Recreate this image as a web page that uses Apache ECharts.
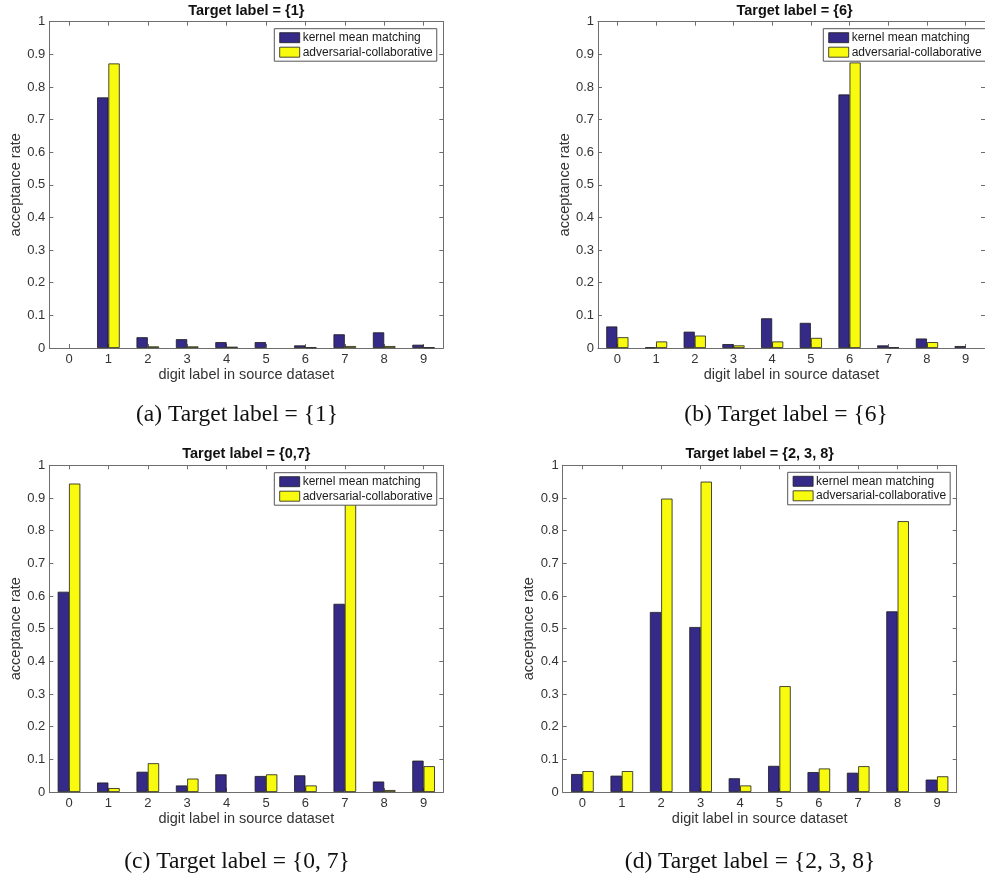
<!DOCTYPE html>
<html>
<head>
<meta charset="utf-8">
<script src="https://cdn.jsdelivr.net/npm/echarts@6/dist/echarts.min.js"></script>
<style>
  html, body { margin: 0; padding: 0; background: #fff; }
  #chart { width: 985px; height: 878px; }
</style>
</head>
<body>
<div id="chart"></div>
<script>
const categories = ['0', '1', '2', '3', '4', '5', '6', '7', '8', '9'];
const yTicks = [0, 0.1, 0.2, 0.3, 0.4, 0.5, 0.6, 0.7, 0.8, 0.9, 1];
const seriesNames = ['kernel mean matching', 'adversarial-collaborative'];

const titles = ['Target label = {1}', 'Target label = {6}', 'Target label = {0,7}', 'Target label = {2, 3, 8}'];
const captions = ['(a) Target label = {1}', '(b) Target label = {6}', '(c) Target label = {0, 7}', '(d) Target label = {2, 3, 8}'];

const kmm_a = [0, 0.768, 0.033, 0.027, 0.018, 0.018, 0.008, 0.042, 0.048, 0.010];
const adv_a = [0, 0.872, 0.005, 0.005, 0.004, 0.000, 0.002, 0.006, 0.006, 0.002];

const kmm_b = [0.066, 0.002, 0.050, 0.012, 0.091, 0.077, 0.777, 0.008, 0.029, 0.006];
const adv_b = [0.033, 0.020, 0.038, 0.008, 0.020, 0.031, 0.875, 0.002, 0.018, 0.000];

const kmm_c = [0.613, 0.029, 0.062, 0.020, 0.054, 0.049, 0.051, 0.576, 0.032, 0.096];
const adv_c = [0.944, 0.012, 0.088, 0.041, 0.000, 0.054, 0.020, 0.930, 0.006, 0.079];

const kmm_d = [0.055, 0.050, 0.551, 0.505, 0.042, 0.080, 0.061, 0.059, 0.553, 0.038];
const adv_d = [0.064, 0.064, 0.898, 0.950, 0.020, 0.324, 0.072, 0.079, 0.829, 0.048];

const panelData = [[kmm_a, adv_a], [kmm_b, adv_b], [kmm_c, adv_c], [kmm_d, adv_d]];

// layout (pixels)
const grids = [
  { left: 49.3, top: 21.7, width: 394, height: 326.3 },
  { left: 598.0, top: 21.7, width: 393, height: 326.3 },
  { left: 49.3, top: 465.3, width: 394, height: 326.7 },
  { left: 562.7, top: 465.3, width: 394, height: 326.7 }
];
const legendPos = [
  { left: 274.3, top: 28.7 },
  { left: 823.3, top: 28.7 },
  { left: 274.3, top: 472.7 },
  { left: 787.7, top: 472.3 }
];
const captionPos = [
  { x: 237, y: 414.5 },
  { x: 786, y: 414.5 },
  { x: 237, y: 862 },
  { x: 750, y: 862 }
];

const BLUE = '#352a87';
const YELLOW = '#f9fb0e';
const FRAME = '#6e6e6e';
const TXT = '#333333';
const FONT = '"Liberation Sans", Arial, Helvetica, sans-serif';

const option = {
  backgroundColor: '#ffffff',
  animation: false,
  title: [],
  legend: [],
  grid: [],
  xAxis: [],
  yAxis: [],
  series: [],
  graphic: []
};

function barItems(values) {
  // zero values are drawn without an outline, like the reference
  return values.map(v => (v === 0 ? { value: v, itemStyle: { borderWidth: 0 } } : v));
}

grids.forEach((g, i) => {
  option.grid.push({ left: g.left, top: g.top, width: g.width, height: g.height, show: false, containLabel: false });
  option.title.push({
    text: titles[i],
    left: g.left + g.width / 2,
    top: g.top - 18.5,
    textAlign: 'center',
    padding: 0,
    textStyle: { fontFamily: FONT, fontSize: 14.5, fontWeight: 'bold', color: '#111' }
  });
  option.xAxis.push({
    type: 'category', gridIndex: i, data: categories, position: 'bottom',
    boundaryGap: true,
    name: 'digit label in source dataset', nameLocation: 'middle', nameGap: 19,
    nameTextStyle: { fontFamily: FONT, fontSize: 14.5, color: TXT },
    axisLine: { show: true, onZero: false, lineStyle: { color: FRAME, width: 1 } },
    axisTick: { show: true, inside: true, alignWithLabel: true, length: 4, lineStyle: { color: FRAME } },
    axisLabel: { fontFamily: FONT, fontSize: 13, color: TXT, margin: 4.5 },
    splitLine: { show: false }
  });
  option.xAxis.push({
    type: 'category', gridIndex: i, data: categories, position: 'top',
    boundaryGap: true,
    axisLine: { show: true, onZero: false, lineStyle: { color: FRAME, width: 1 } },
    axisTick: { show: true, inside: true, alignWithLabel: true, length: 4, lineStyle: { color: FRAME } },
    axisLabel: { show: false },
    splitLine: { show: false }
  });
  option.yAxis.push({
    type: 'value', gridIndex: i, min: yTicks[0], max: yTicks[yTicks.length - 1], interval: yTicks[1] - yTicks[0],
    position: 'left',
    name: 'acceptance rate', nameLocation: 'middle', nameGap: 25,
    nameTextStyle: { fontFamily: FONT, fontSize: 14.5, color: TXT },
    axisLine: { show: true, onZero: false, lineStyle: { color: FRAME, width: 1 } },
    axisTick: { show: true, inside: true, length: 4, lineStyle: { color: FRAME } },
    axisLabel: { fontFamily: FONT, fontSize: 13, color: TXT, margin: 4,
      formatter: v => String(Math.round(v * 10) / 10) },
    splitLine: { show: false }
  });
  option.yAxis.push({
    type: 'value', gridIndex: i, min: yTicks[0], max: yTicks[yTicks.length - 1], interval: yTicks[1] - yTicks[0],
    position: 'right',
    axisLine: { show: true, onZero: false, lineStyle: { color: FRAME, width: 1 } },
    axisTick: { show: true, inside: true, length: 4, lineStyle: { color: FRAME } },
    axisLabel: { show: false },
    splitLine: { show: false }
  });
  const [kmm, adv] = panelData[i];
  option.series.push({
    name: seriesNames[0], type: 'bar', xAxisIndex: 2 * i, yAxisIndex: 2 * i,
    data: barItems(kmm), barWidth: '28.7%', barGap: '0%',
    itemStyle: { color: BLUE, borderColor: '#1a1a1a', borderWidth: 0.8 }
  });
  option.series.push({
    name: seriesNames[1], type: 'bar', xAxisIndex: 2 * i, yAxisIndex: 2 * i,
    data: barItems(adv), barWidth: '28.7%', barGap: '0%',
    itemStyle: { color: YELLOW, borderColor: '#1a1a1a', borderWidth: 0.8 }
  });
  option.legend.push({
    data: seriesNames,
    orient: 'vertical',
    left: legendPos[i].left, top: legendPos[i].top,
    itemWidth: 20, itemHeight: 10, itemGap: 2.5,
    padding: [3, 4, 3, 5],
    backgroundColor: '#ffffff',
    borderColor: '#555', borderWidth: 1, borderRadius: 0,
    icon: 'rect',
    itemStyle: { borderColor: '#1a1a1a', borderWidth: 0.8 },
    textStyle: { fontFamily: FONT, fontSize: 12, color: '#1a1a1a', padding: [0, 0, 0, -2] },
    selectedMode: false,
    z: 10
  });
  option.graphic.push({
    type: 'text',
    x: captionPos[i].x, y: captionPos[i].y,
    style: {
      text: captions[i],
      font: '23.5px "Liberation Serif", "Times New Roman", serif',
      fill: '#111',
      textAlign: 'center',
      textVerticalAlign: 'middle'
    }
  });
});

const chart = echarts.init(document.getElementById('chart'), null, { renderer: 'canvas' });
chart.setOption(option);
</script>
</body>
</html>
